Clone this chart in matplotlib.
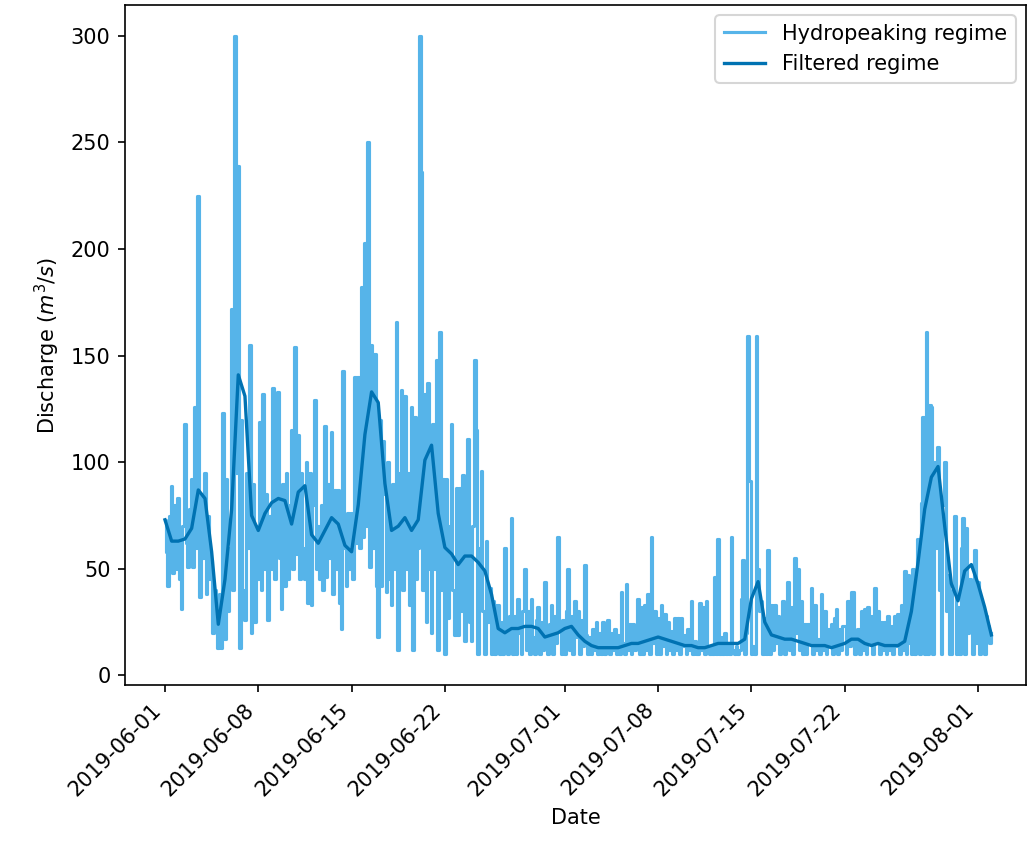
import matplotlib
matplotlib.use("Agg")
import matplotlib.pyplot as plt
import matplotlib.dates as mdates
import numpy as np
import pandas as pd

# Hydropeaking regime (m3/s), 3-hourly samples from 2019-06-01 00:00 (8 per day)
hydro_june = [
    73, 58, 42, 75, 89, 48, 80, 50,        # 06-01
    83, 45, 31, 70, 118, 62, 51, 78,
    92, 51, 126, 60, 225, 37, 85, 55,
    95, 38, 75, 45, 54, 20, 40, 22,
    13, 38, 13, 123, 17, 92, 30, 60,
    172, 40, 300, 95, 239, 13, 120, 40,    # 06-06
    26, 95, 60, 155, 20, 90, 25, 70,
    45, 119, 40, 132, 50, 85, 26, 75,
    50, 135, 45, 100, 133, 55, 31, 90,
    42, 95, 45, 80, 115, 50, 154, 57,
    113, 45, 95, 60, 45, 100, 34, 95,      # 06-11
    33, 80, 129, 50, 70, 45, 80, 40,
    117, 46, 90, 55, 114, 38, 87, 50,
    87, 34, 22, 143, 60, 42, 76, 50,
    76, 45, 140, 62, 140, 60, 182, 65,
    203, 70, 250, 51, 155, 60, 151, 42,    # 06-16
    18, 120, 42, 110, 85, 39, 100, 45,
    33, 90, 50, 166, 12, 95, 134, 40,
    131, 50, 95, 33, 126, 12, 121, 45,
    60, 300, 236, 40, 132, 25, 137, 50,
    20, 118, 50, 148, 12, 161, 40, 92,     # 06-21
    10, 92, 27, 70, 118, 40, 19, 88,
    19, 88, 30, 94, 16, 70, 111, 25,
    16, 70, 148, 115, 10, 60, 96, 30,
    10, 63, 25, 41, 10, 35, 10, 33,
    33, 10, 25, 10, 60, 22, 10, 28,        # 06-26
    74, 10, 28, 10, 36, 20, 10, 30,
    50, 12, 30, 10, 36, 18, 10, 26,
    32, 10, 25, 12, 44, 20, 10, 24,
    33, 10, 28, 15, 65, 22, 10, 26,
]
hydro_july = [
    10, 30, 50, 12, 28, 10, 35, 18,        # 07-01
    30, 10, 26, 14, 52, 19, 10, 18,
    10, 22, 12, 25, 10, 20, 10, 25,
    10, 18, 26, 10, 20, 12, 22, 10,
    19, 10, 39, 15, 10, 43, 12, 24,
    10, 24, 12, 20, 36, 10, 32, 10,        # 07-06
    33, 12, 38, 10, 65, 15, 30, 10,
    27, 10, 33, 14, 29, 10, 25, 12,
    21, 10, 27, 12, 27, 10, 27, 14,
    19, 10, 22, 12, 35, 10, 16, 10,
    10, 34, 12, 32, 10, 35, 14, 10,        # 07-11
    14, 10, 46, 10, 64, 10, 18, 10,
    20, 10, 15, 10, 65, 12, 10, 14,
    10, 12, 36, 54, 10, 20, 159, 91,
    10, 14, 10, 159, 50, 30, 35, 10,
    27, 10, 59, 10, 33, 12, 33, 15,        # 07-16
    28, 10, 25, 35, 10, 20, 44, 12,
    32, 10, 55, 20, 50, 12, 35, 10,
    24, 10, 24, 15, 41, 10, 33, 12,
    17, 10, 38, 12, 30, 10, 22, 14,
    24, 10, 27, 31, 10, 22, 12, 23,        # 07-21
    23, 10, 35, 14, 39, 39, 10, 20,
    22, 10, 30, 12, 31, 10, 32, 15,
    28, 10, 41, 15, 30, 10, 25, 12,
    25, 10, 28, 12, 23, 10, 28, 14,
    29, 10, 33, 12, 49, 10, 47, 15,        # 07-26
    10, 50, 10, 47, 64, 10, 81, 121,
    10, 161, 10, 127, 126, 10, 100, 60,
    107, 40, 10, 80, 100, 30, 47, 10,
    10, 40, 75, 10, 32, 10, 60, 74,
    10, 69, 20, 45, 32, 10, 59, 15,        # 07-31
]
hydro_aug = [
    44, 10, 35, 31, 10, 28, 23, 15,        # 08-01
    20,
]

# Filtered regime, 12-hourly samples starting 2019-06-01 00:00 (m3/s)
filtered_values = [
    73, 63, 63, 64, 69, 87, 83, 58, 24, 45,
    78, 141, 131, 75, 68, 76, 81, 83, 82, 71,
    86, 89, 66, 62, 68, 74, 71, 61, 58, 80,
    113, 133, 128, 90, 68, 70, 74, 68, 73, 101,
    108, 76, 60, 57, 52, 56, 56, 53, 49, 38,
    22, 20, 22, 22, 23, 23, 22, 18, 19, 20,
    22, 23, 19, 16, 14, 13, 13, 13, 13, 14,
    15, 15, 16, 17, 18, 17, 16, 15, 14, 14,
    13, 13, 14, 15, 15, 15, 15, 17, 36, 44,
    25, 19, 18, 17, 17, 16, 15, 14, 14, 14,
    13, 14, 15, 17, 17, 15, 14, 15, 14, 14,
    14, 16, 30, 53, 78, 93, 98, 70, 43, 35,
    49, 52, 43, 32, 19,
]

start = "2019-06-01"
hydro_values = hydro_june + hydro_july + hydro_aug
hydro_time = pd.date_range(start, periods=len(hydro_values), freq="3h")
filt_time = pd.date_range(start, periods=len(filtered_values), freq="12h")

light = "#56B4E9"
dark = "#0072B2"

fig = plt.figure(figsize=(1027 / 150, 858 / 150), dpi=150)
ax = fig.add_axes([125 / 1027, (858 - 685) / 858, (1026 - 125) / 1027, (685 - 5) / 858])

ax.plot(hydro_time, hydro_values, color=light, lw=1.5, drawstyle="steps-mid",
        label="Hydropeaking regime")
ax.plot(filt_time, filtered_values, color=dark, lw=1.6, label="Filtered regime")

t0 = pd.Timestamp(start)
ax.set_xlim(t0 - pd.Timedelta(days=3.0), t0 + pd.Timedelta(days=64.6))
ax.set_ylim(-4.5, 314.5)

ax.xaxis.set_major_locator(mdates.DayLocator(bymonthday=[1, 8, 15, 22]))
ax.xaxis.set_major_formatter(mdates.DateFormatter("%Y-%m-%d"))
plt.setp(ax.get_xticklabels(), rotation=45, ha="right", rotation_mode="default")

ax.set_xlabel("Date")
ax.set_ylabel("Discharge ($m^3/s$)")
ax.legend(loc="upper right")

fig.savefig("out.png", dpi=150)
